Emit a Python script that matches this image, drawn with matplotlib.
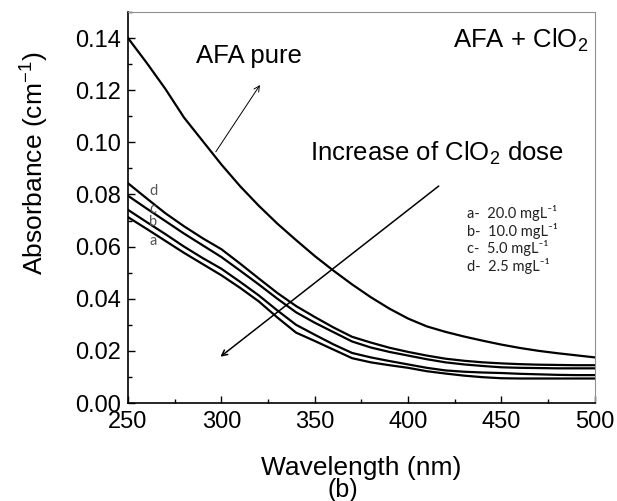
import matplotlib
matplotlib.use('Agg')
import matplotlib.pyplot as plt
from matplotlib.ticker import MultipleLocator, FormatStrFormatter

plt.rcParams['font.family'] = ['Liberation Sans', 'DejaVu Sans']
plt.rcParams['mathtext.fontset'] = 'custom'
plt.rcParams['mathtext.rm'] = 'Liberation Sans'

wl = [250, 260, 270, 280, 290, 300, 310, 320, 330, 340, 350, 360, 370,
      380, 390, 400, 410, 420, 430, 440, 450, 460, 470, 480, 490, 500]

pure = [0.140, 0.1305, 0.1205, 0.1095, 0.1005, 0.0915, 0.0832, 0.0757, 0.0688, 0.0625,
        0.0564, 0.0508, 0.0455, 0.0406, 0.0362, 0.0324, 0.0294, 0.0273, 0.0255, 0.0239,
        0.0224, 0.0211, 0.0200, 0.0191, 0.0183, 0.0175]
d = [0.0843, 0.0785, 0.0728, 0.0678, 0.0632, 0.0590, 0.0535, 0.0478, 0.0422, 0.0372,
     0.0330, 0.0290, 0.0254, 0.0232, 0.0212, 0.0196, 0.0182, 0.0170, 0.0162, 0.0156,
     0.0152, 0.0149, 0.0147, 0.0146, 0.0145, 0.0145]
c = [0.0795, 0.0746, 0.0698, 0.0650, 0.0605, 0.0560, 0.0508, 0.0455, 0.0400, 0.0348,
     0.0308, 0.0272, 0.0236, 0.0213, 0.0196, 0.0182, 0.0168, 0.0156, 0.0148, 0.0142,
     0.0137, 0.0135, 0.0134, 0.0133, 0.0133, 0.0133]
b = [0.0741, 0.0694, 0.0648, 0.0600, 0.0556, 0.0515, 0.0465, 0.0413, 0.0355, 0.0300,
     0.0262, 0.0225, 0.0192, 0.0175, 0.0161, 0.0148, 0.0135, 0.0125, 0.0120, 0.0117,
     0.0115, 0.0112, 0.0110, 0.0108, 0.0107, 0.0107]
a = [0.0713, 0.0668, 0.0622, 0.0576, 0.0533, 0.0490, 0.0442, 0.0390, 0.0328, 0.0270,
     0.0238, 0.0205, 0.0172, 0.0156, 0.0145, 0.0135, 0.0122, 0.0113, 0.0105, 0.0099,
     0.0095, 0.0094, 0.0094, 0.0094, 0.0094, 0.0094]

doses = ['a-  20.0 mgL⁻¹', 'b-  10.0 mgL⁻¹', 'c-  5.0 mgL⁻¹', 'd-  2.5 mgL⁻¹']
curve_tags = ['d', 'c', 'b', 'a']
tag_y = [0.0815, 0.0745, 0.0695, 0.0622]

fig = plt.figure(figsize=(6.17, 5.01), dpi=100)
ax = fig.add_axes([0.2075, 0.1956, 0.7565, 0.7804])

for y in [pure, d, c, b, a]:
    ax.plot(wl, y, color='black', lw=1.6)

ax.set_xlim(250, 500)
ax.set_ylim(0, 0.15)
ax.xaxis.set_major_locator(MultipleLocator(50))
ax.xaxis.set_minor_locator(MultipleLocator(25))
ax.yaxis.set_major_locator(MultipleLocator(0.02))
ax.yaxis.set_minor_locator(MultipleLocator(0.01))
ax.yaxis.set_major_formatter(FormatStrFormatter('%.2f'))
ax.tick_params(which='both', direction='in', top=False, right=False, labelsize=17)
ax.tick_params(which='major', length=5, width=1)
ax.tick_params(which='minor', length=3, width=1)
ax.tick_params(axis='x', pad=6)
ax.tick_params(axis='y', pad=5)
for s in ['top', 'right']:
    ax.spines[s].set_color('#909090')
    ax.spines[s].set_linewidth(0.8)
for s in ['left', 'bottom']:
    ax.spines[s].set_linewidth(1.2)

ax.set_ylabel('Absorbance (cm$^{-1}$)', fontsize=19)
ax.yaxis.set_label_coords(-0.168, 0.614)
ax.set_xlabel('Wavelength (nm)', fontsize=19, labelpad=16)
fig.text(0.556, 0.022, '(b)', fontsize=18, ha='center', va='center')

ax.text(0.259, 0.87, 'AFA pure', transform=ax.transAxes, fontsize=18.5,
        ha='center', va='baseline')
ax.text(0.985, 0.91, 'AFA + ClO$_2$', transform=ax.transAxes, fontsize=18.5,
        ha='right', va='baseline')
ax.text(0.39, 0.621, 'Increase of ClO$_2$ dose', transform=ax.transAxes, fontsize=18.5,
        ha='left', va='baseline')

ax.annotate('', xy=(321.5, 0.1229), xytext=(296.2, 0.0955),
            arrowprops=dict(arrowstyle='->', color='black', lw=0.7))
ax.annotate('', xy=(298.3, 0.0171), xytext=(417.6, 0.0839),
            arrowprops=dict(arrowstyle='->', color='black', lw=1.1))

for i, t in enumerate(doses):
    ax.text(0.726, 0.486 - i * 0.045, t, transform=ax.transAxes, fontsize=10.5,
            family=['Lato', 'DejaVu Sans'], color='#222222', ha='left', va='center')

for lab, yv in zip(curve_tags, tag_y):
    ax.text(263.5, yv, lab, fontsize=10.5, color='#555555', ha='center', va='center',
            family=['Lato', 'DejaVu Sans'])

fig.savefig('out.png', dpi=100)
